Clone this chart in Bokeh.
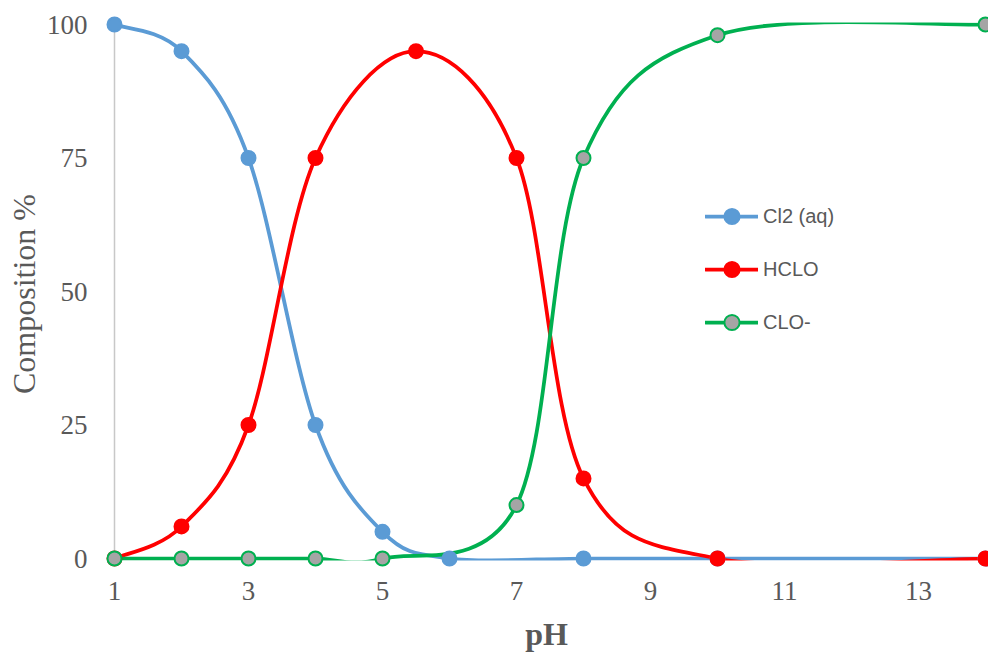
from bokeh.plotting import figure
from bokeh.models import Range1d, FixedTicker, Legend, LegendItem, ColumnDataSource
from bokeh.embed import file_html
from bokeh.resources import INLINE

# ---- data ----
ph_cl2 = [1, 2, 3, 4, 5, 6, 8, 10, 14]
cl2 = [100, 95, 75, 25, 5, 0, 0, 0, 0]
ph_hclo = [1, 2, 3, 4, 5.5, 7, 8, 10, 14]
hclo = [0, 6, 25, 75, 95, 75, 15, 0, 0]
ph_clo = [1, 2, 3, 4, 5, 7, 8, 10, 14]
clo = [0, 0, 0, 0, 0, 10, 75, 98, 100]
x_ticks = [1, 3, 5, 7, 9, 11, 13]
y_ticks = [0, 25, 50, 75, 100]
names = ["Cl2 (aq)", "HCLO", "CLO-"]

X_START, X_END = 1 - 10 / 67.0, 14 + 3 / 67.0
Y_START, Y_END = -2.996, 102.06
CLIP = 0.37  # plot-area clipping margin (data units) used by the smoothed lines


def smooth_segments(xs, ys):
    """Bezier segments (Excel-like smoothed line) through the data points."""
    n = len(xs)
    d = dict(x0=[], y0=[], x1=[], y1=[], cx0=[], cy0=[], cx1=[], cy1=[])
    for i in range(n - 1):
        xm, ym = (xs[i - 1], ys[i - 1]) if i > 0 else (xs[i], ys[i])
        xp, yp = (xs[i + 2], ys[i + 2]) if i + 2 < n else (xs[i + 1], ys[i + 1])
        d["x0"].append(xs[i]); d["y0"].append(ys[i])
        d["x1"].append(xs[i + 1]); d["y1"].append(ys[i + 1])
        d["cx0"].append(xs[i] + (xs[i + 1] - xm) / 6.0)
        d["cy0"].append(ys[i] + (ys[i + 1] - ym) / 6.0)
        d["cx1"].append(xs[i + 1] - (xp - xs[i]) / 6.0)
        d["cy1"].append(ys[i + 1] - (yp - ys[i]) / 6.0)
    return ColumnDataSource(d)


p = figure(output_backend="svg", toolbar_location=None,
           frame_width=884, frame_height=561,
           min_border_left=104, min_border_right=0, min_border_top=13, min_border_bottom=79,
           x_range=Range1d(X_START, X_END),
           y_range=Range1d(Y_START, Y_END))
p.outline_line_color = None
p.grid.visible = False
p.background_fill_color = "white"
p.border_fill_color = "white"

# axes
for ax in (p.xaxis[0], p.yaxis[0]):
    ax.axis_line_color = None
    ax.major_tick_line_color = None
    ax.minor_tick_line_color = None
    ax.major_tick_out = 0
    ax.major_tick_in = 0
    ax.minor_tick_out = 0
    ax.major_label_text_font = "Liberation Serif"
    ax.major_label_text_font_size = "27px"
    ax.major_label_text_color = "#595959"
    ax.axis_label_text_font = "Liberation Serif"
    ax.axis_label_text_font_size = "32px"
    ax.axis_label_text_color = "#595959"

p.xaxis.ticker = FixedTicker(ticks=x_ticks)
p.yaxis.ticker = FixedTicker(ticks=y_ticks)
p.xaxis.axis_label = "pH"
p.xaxis.axis_label_text_font_style = "bold"
p.yaxis.axis_label = "Composition %"
p.yaxis.axis_label_text_font_style = "normal"
p.xaxis.major_label_standoff = 7
p.xaxis.axis_label_standoff = 13
p.yaxis.major_label_standoff = 17
p.yaxis.axis_label_standoff = 2

# vertical axis line at x = first tick
p.segment(x0=[x_ticks[0]], y0=[y_ticks[0]], x1=[x_ticks[0]], y1=[y_ticks[-1]],
          line_color="#C8C8C8", line_width=1.5)

series = [
    (ph_cl2, cl2, "#5B9BD5", "#5B9BD5", "#5B9BD5"),
    (ph_hclo, hclo, "#FF0000", "#FF0000", "#FF0000"),
    (ph_clo, clo, "#00B050", "#A5A5A5", "#00B050"),
]

# smoothed lines
line_renderers = []
for xs, ys, lc, fc, mc in series:
    src = smooth_segments(xs, ys)
    r = p.bezier(x0="x0", y0="y0", x1="x1", y1="y1", cx0="cx0", cy0="cy0", cx1="cx1", cy1="cy1",
                 source=src, line_color=lc, line_width=3.75, line_cap="round", line_join="round")
    line_renderers.append(r)

# plot-area clipping of the lines (below 0 and above 100)
p.quad(left=[X_START, X_START], right=[X_END, X_END],
       bottom=[Y_START, y_ticks[-1] + CLIP], top=[y_ticks[0] - CLIP, Y_END],
       fill_color="white", line_color=None)

# markers
items = []
for (xs, ys, lc, fc, mc), name, lr in zip(series, names, line_renderers):
    sr = p.scatter(xs, ys, size=14, fill_color=fc, line_color=mc, line_width=2)
    items.append(LegendItem(label=name, renderers=[lr, sr]))

legend = Legend(items=items, location=(601, 233), orientation="vertical",
                glyph_width=53, glyph_height=38, label_height=38, spacing=15,
                padding=0, margin=0, label_standoff=5,
                border_line_color=None, background_fill_alpha=0,
                label_text_font="Liberation Sans", label_text_font_size="20px",
                label_text_color="#595959")
p.add_layout(legend, "center")

open("out.html", "w").write(file_html(p, INLINE))
